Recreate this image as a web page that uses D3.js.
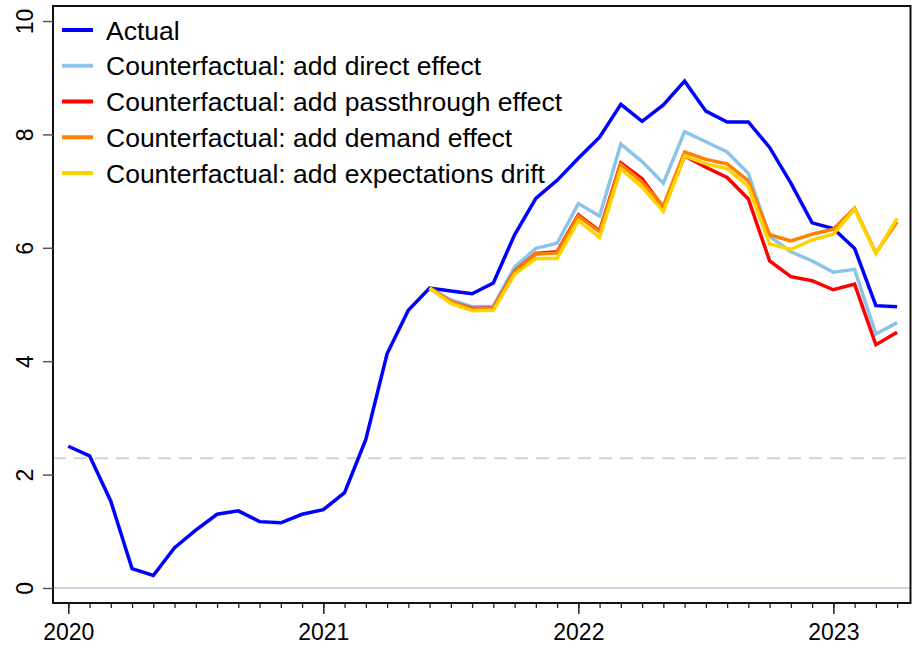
<!DOCTYPE html>
<html lang="en">
<head>
    <meta charset="utf-8">
    <title>Actual vs counterfactual</title>
    <script src="https://d3js.org/d3.v7.min.js"></script>
    <style>
        body { margin: 0; background: #fff; }
        svg { display: block; font-family: "Liberation Sans", Arial, sans-serif; }
    </style>
</head>
<body>
<svg id="chart"></svg>
<script>

    // monthly series, Jan 2020 .. Apr 2023
    const yearTicks = ["2020", "2021", "2022", "2023"];
    const yTicks = [0, 2, 4, 6, 8, 10];
    const target = 2.29;

    const actual = [
        2.50, 2.33, 1.53, 0.34, 0.22, 0.71, 1.02, 1.30, 1.36, 1.17, 1.15, 1.30,
        1.38, 1.68, 2.62, 4.13, 4.90, 5.29, 5.24, 5.19, 5.38, 6.23, 6.87, 7.19,
        7.58, 7.95, 8.53, 8.23, 8.52, 8.94, 8.41, 8.22, 8.22, 7.77, 7.14, 6.44,
        6.34, 5.99, 4.98, 4.96
    ];
    // counterfactuals start Jun 2021 (month index 17)
    const cfStart = 17;
    const directEffect = [5.29, 5.08, 4.96, 4.97, 5.66, 5.99, 6.08, 6.78, 6.56, 7.83, 7.52, 7.14,
        8.05, 7.87, 7.69, 7.31, 6.20, 5.93, 5.77, 5.57, 5.62, 4.48, 4.68];
    const passthroughEffect = [5.29, 5.05, 4.93, 4.94, 5.59, 5.90, 5.93, 6.58, 6.30, 7.50, 7.22, 6.71,
        7.62, 7.42, 7.24, 6.86, 5.77, 5.49, 5.42, 5.26, 5.36, 4.29, 4.51];
    const demandEffect = [5.29, 5.05, 4.92, 4.93, 5.58, 5.89, 5.91, 6.56, 6.28, 7.47, 7.16, 6.74,
        7.69, 7.56, 7.48, 7.18, 6.23, 6.12, 6.24, 6.33, 6.70, 5.91, 6.46];
    const expectationsDrift = [5.29, 5.02, 4.89, 4.90, 5.53, 5.81, 5.81, 6.48, 6.18, 7.39, 7.07, 6.64,
        7.62, 7.48, 7.40, 7.08, 6.07, 5.97, 6.14, 6.24, 6.68, 5.90, 6.52];

    const seriesNames = [
        "Actual",
        "Counterfactual: add direct effect",
        "Counterfactual: add passthrough effect",
        "Counterfactual: add demand effect",
        "Counterfactual: add expectations drift"
    ];
    const seriesColors = ["#0000ff", "#8cc3e9", "#ff0000", "#ff8000", "#ffd200"];

    const series = [
        {name: seriesNames[0], color: seriesColors[0], values: actual.map((v, i) => ({m: i, v}))},
        {name: seriesNames[1], color: seriesColors[1], values: directEffect.map((v, i) => ({m: i + cfStart, v}))},
        {name: seriesNames[2], color: seriesColors[2], values: passthroughEffect.map((v, i) => ({m: i + cfStart, v}))},
        {name: seriesNames[3], color: seriesColors[3], values: demandEffect.map((v, i) => ({m: i + cfStart, v}))},
        {name: seriesNames[4], color: seriesColors[4], values: expectationsDrift.map((v, i) => ({m: i + cfStart, v}))}
    ];

    let width = 912,
        height = 648,
        frame = {left: 53, right: 910.5, top: 6, bottom: 603};

    let svg = d3.select("#chart")
        .attr("width", width)
        .attr("height", height);

    // month index -> px
    let x = d3.scaleLinear()
        .domain([-0.72, 39.63])
        .range([frame.left, frame.right]);

    let y = d3.scaleLinear()
        .domain([-0.265, 10.265])
        .range([frame.bottom, frame.top]);

    // reference lines
    svg.append("line")
        .attr("x1", frame.left).attr("x2", frame.right)
        .attr("y1", y(0)).attr("y2", y(0))
        .attr("stroke", "#c9d3e2").attr("stroke-width", 2);

    svg.append("line")
        .attr("x1", frame.left).attr("x2", frame.right)
        .attr("y1", y(target)).attr("y2", y(target))
        .attr("stroke", "#c9d3e2").attr("stroke-width", 2)
        .attr("stroke-dasharray", "13,8");

    // series
    let line = d3.line().x(d => x(d.m)).y(d => y(d.v));

    svg.append("g").attr("id", "lines")
        .selectAll("path")
        .data(series)
        .enter().append("path")
            .attr("d", d => line(d.values))
            .attr("fill", "none")
            .attr("stroke", d => d.color)
            .attr("stroke-width", 3.5)
            .attr("stroke-linejoin", "miter");

    // frame
    svg.append("rect")
        .attr("x", frame.left).attr("y", frame.top)
        .attr("width", frame.right - frame.left)
        .attr("height", frame.bottom - frame.top)
        .attr("fill", "none")
        .attr("stroke", "#111").attr("stroke-width", 2);

    // x axis: monthly minor ticks, yearly labels
    let xAxisMinor = d3.axisBottom(x)
        .tickValues(d3.range(0, actual.length))
        .tickSize(5)
        .tickFormat("");
    svg.append("g")
        .attr("transform", `translate(0,${frame.bottom})`)
        .call(xAxisMinor)
        .call(g => g.select(".domain").remove())
        .call(g => g.selectAll("line").attr("stroke", "#222").attr("stroke-width", 1.3));

    let xAxisMajor = d3.axisBottom(x)
        .tickValues(yearTicks.map((t, i) => i * 12))
        .tickSize(11)
        .tickPadding(10)
        .tickFormat((d, i) => yearTicks[i]);
    svg.append("g")
        .attr("transform", `translate(0,${frame.bottom})`)
        .call(xAxisMajor)
        .call(g => g.select(".domain").remove())
        .call(g => g.selectAll("line").attr("stroke", "#222").attr("stroke-width", 1.5))
        .call(g => g.selectAll("text")
            .attr("font-size", 23)
            .attr("font-family", "'Liberation Sans', Arial, sans-serif")
            .attr("fill", "#000"));

    // y axis, rotated labels
    let yAxis = d3.axisLeft(y)
        .tickValues(yTicks)
        .tickSize(10)
        .tickFormat(d3.format("d"));
    svg.append("g")
        .attr("transform", `translate(${frame.left},0)`)
        .call(yAxis)
        .call(g => g.select(".domain").remove())
        .call(g => g.selectAll("line").attr("stroke", "#555").attr("stroke-width", 1.5))
        .call(g => g.selectAll("text")
            .attr("font-size", 23)
            .attr("font-family", "'Liberation Sans', Arial, sans-serif")
            .attr("fill", "#000")
            .attr("text-anchor", "middle")
            .attr("dy", 0)
            .attr("x", 0)
            .attr("y", 0)
            .attr("transform", "translate(-20,0) rotate(-90)"));

    // legend
    let legend = svg.append("g").attr("id", "legend");
    let rowY = d3.scaleLinear().domain([0, 4]).range([30, 173]);
    let rows = legend.selectAll("g")
        .data(series)
        .enter().append("g")
            .attr("transform", (d, i) => `translate(62,${rowY(i)})`);
    rows.append("line")
        .attr("x1", 0).attr("x2", 31)
        .attr("stroke", d => d.color)
        .attr("stroke-width", 4);
    rows.append("text")
        .attr("x", 44).attr("y", 9.5)
        .attr("font-size", 26.5)
        .attr("fill", "#000")
        .text(d => d.name);

</script>
</body>
</html>
